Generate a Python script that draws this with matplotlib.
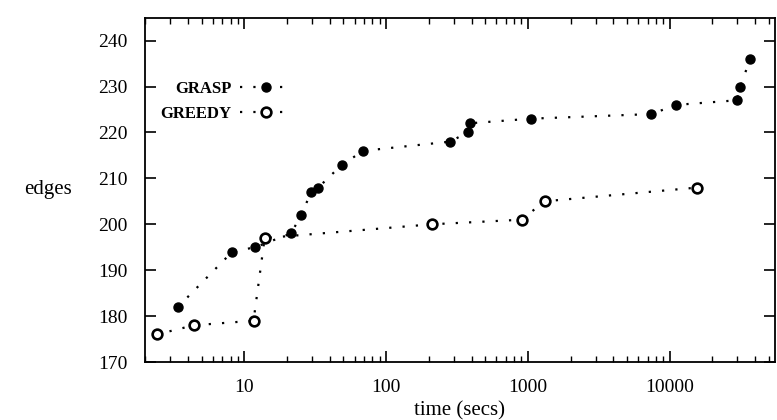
import matplotlib
matplotlib.use("Agg")
import matplotlib.pyplot as plt

# data
grasp_time = [3.4, 8.2, 11.9, 21.3, 25.2, 29.5, 33.2, 48.8, 69.2, 283, 375, 392,
              1054, 7400, 11150, 29700, 31500, 36900]
grasp_edges = [182, 194, 195, 198, 202, 207, 208, 213, 216, 218, 220, 222,
               223, 224, 226, 227, 230, 236]

greedy_time = [2.4, 4.4, 11.6, 13.9, 211, 903, 1309, 15700]
greedy_edges = [176, 178, 179, 197, 200, 201, 205, 208]

yticks = [170, 180, 190, 200, 210, 220, 230, 240]
xticks = [10, 100, 1000, 10000]
xticklabels = ["10", "100", "1000", "10000"]

plt.rcParams['font.family'] = ['Liberation Serif', 'DejaVu Serif']

fig = plt.figure(figsize=(7.77, 4.2), dpi=100)
ax = fig.add_axes([0.187, 0.138, 0.81, 0.82])

dots = (0, (1, 5))
ax.plot(grasp_time, grasp_edges, linestyle=dots, color='black', lw=1.6,
        marker='o', markersize=6.5, markerfacecolor='black',
        markeredgecolor='black', label='GRASP')
ax.plot(greedy_time, greedy_edges, linestyle=dots, color='black', lw=1.6,
        marker='o', markersize=7, markerfacecolor='white',
        markeredgecolor='black', markeredgewidth=1.9, label='GREEDY')

ax.set_xscale('log')
ax.set_xlim(2, 55000)
ax.set_ylim(170, 245)
ax.set_xticks(xticks)
ax.set_xticklabels(xticklabels)
ax.set_yticks(yticks)

ax.tick_params(which='major', direction='in', length=8, width=1.2,
               top=True, right=True, labelsize=14)
ax.tick_params(axis='x', which='major', pad=12)
ax.tick_params(axis='y', which='major', pad=13)
ax.tick_params(which='minor', direction='in', length=4, width=1,
               top=True, right=True)
ax.tick_params(axis='y', which='minor', left=False, right=False)
for s in ax.spines.values():
    s.set_linewidth(1.3)

ax.set_xlabel('time (secs)', fontsize=15, labelpad=4)
ax.set_ylabel('edges', fontsize=15, rotation=0, labelpad=36, va='center')

leg = ax.legend(loc='upper left', bbox_to_anchor=(0.0, 0.86), frameon=False,
                markerfirst=False, handlelength=3.2, handletextpad=0.5,
                labelspacing=0.55, prop={'weight': 'bold', 'size': 12})

fig.savefig('out.png', dpi=100)
